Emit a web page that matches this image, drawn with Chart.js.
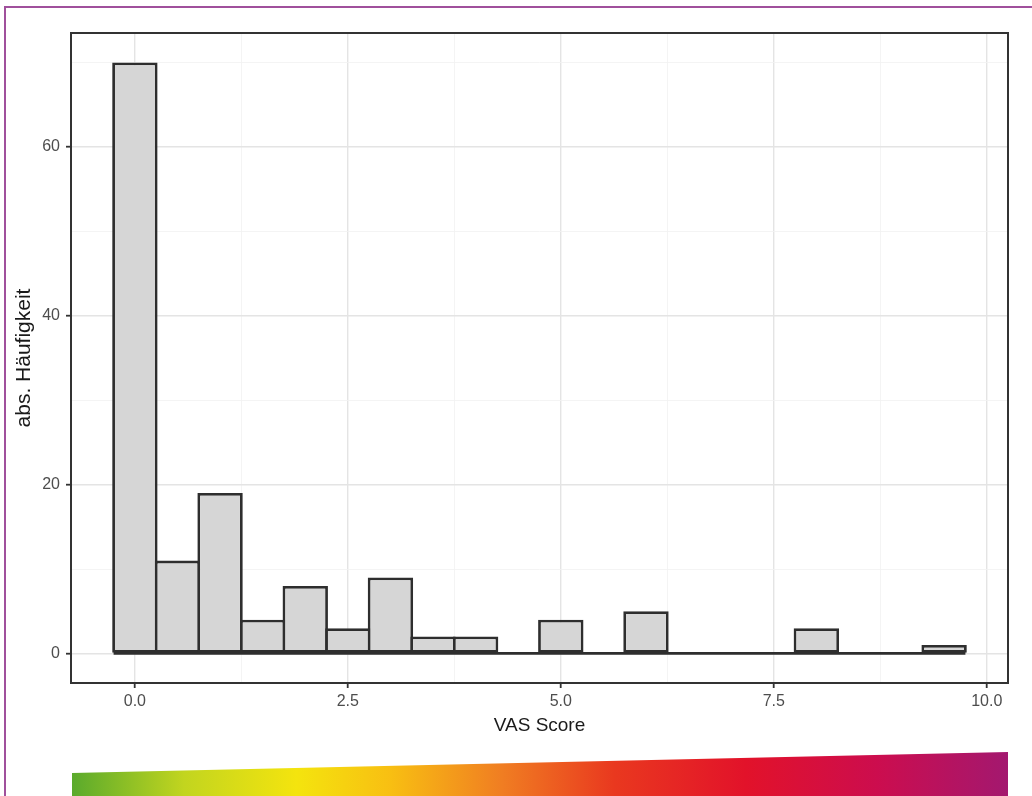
<!DOCTYPE html>
<html lang="de">
<head>
<meta charset="utf-8">
<title>VAS Score Histogramm</title>
<script src="https://cdn.jsdelivr.net/npm/chart.js@4.4.1/dist/chart.umd.min.js"></script>
<style>
html,body{margin:0;padding:0;background:#fff;}
#wrap{position:relative;width:1032px;height:796px;}
</style>
</head>
<body>
<div id="wrap"><canvas id="vasChart"></canvas></div>
<script>
// ═══════════ DATA ═══════════
const binCenters=[0,0.5,1,1.5,2,2.5,3,3.5,4,4.5,5,5.5,6,6.5,7,7.5,8,8.5,9,9.5];
const counts=[70,11,19,4,8,3,9,2,2,0,4,0,5,0,0,0,3,0,0,1];
const binWidth=0.5;
const xTickLabels=['0.0','2.5','5.0','7.5','10.0'];
const yTickLabels=['0','20','40','60'];
const xTitle='VAS Score';
const yTitle='abs. Häufigkeit';

// ═══════════ RANGES (ggplot style 5% expansion) ═══════════
const xLo=binCenters[0]-binWidth/2;
const xHi=binCenters[binCenters.length-1]+binWidth/2;
const xPad=(xHi-xLo)*0.05;
const yMax=Math.max(...counts);
const yPad=yMax*0.05;

const isMajorX=v=>xTickLabels.some(l=>Math.abs(parseFloat(l)-v)<1e-6);
const isMajorY=v=>yTickLabels.some(l=>Math.abs(parseFloat(l)-v)<1e-6);

const FONT="'Liberation Sans', Arial, Helvetica, sans-serif";
const INK='#2e2e2e';

// white page + purple frame (left/top)
const pageBg={
  id:'pageBg',
  beforeDraw(chart){
    const c=chart.ctx;
    c.save();
    c.fillStyle='#fff';
    c.fillRect(0,0,chart.width,chart.height);
    c.strokeStyle='#a0509c';
    c.lineWidth=2;
    c.beginPath();
    c.moveTo(5,chart.height);c.lineTo(5,7);c.lineTo(chart.width,7);
    c.stroke();
    c.restore();
  }
};

// panel border + colour wedge under the axis
const panelDeco={
  id:'panelDeco',
  afterDraw(chart){
    const c=chart.ctx, a=chart.chartArea;
    c.save();
    c.strokeStyle='#333';
    c.lineWidth=2;
    c.strokeRect(a.left,a.top,a.right-a.left,a.bottom-a.top);

    const gx0=72,gx1=1008;
    const g=c.createLinearGradient(gx0,0,gx1,0);
    g.addColorStop(0,'#5aaa2c');
    g.addColorStop(0.12,'#c2d51f');
    g.addColorStop(0.24,'#f4e40e');
    g.addColorStop(0.34,'#f8bf12');
    g.addColorStop(0.46,'#f07d22');
    g.addColorStop(0.58,'#e9381f');
    g.addColorStop(0.72,'#e2122a');
    g.addColorStop(0.86,'#cc0d4e');
    g.addColorStop(1,'#a3186f');
    c.fillStyle=g;
    c.beginPath();
    c.moveTo(gx0,773);c.lineTo(gx1,752);c.lineTo(gx1,chart.height);c.lineTo(gx0,chart.height);
    c.closePath();
    c.fill();
    c.restore();
  }
};

new Chart(document.getElementById('vasChart'),{
  type:'bar',
  data:{
    datasets:[
      {
        type:'line',
        data:[{x:xLo,y:0},{x:xHi,y:0}],
        borderColor:INK,borderWidth:2.8,
        pointRadius:0,order:1
      },
      {
        type:'bar',
        data:binCenters.map((x,i)=>({x,y:counts[i]})),
        backgroundColor:'#d6d6d6',
        borderColor:INK,
        borderWidth:2.8,
        borderSkipped:false,
        barPercentage:1.066,
        categoryPercentage:1,
        order:2
      }
    ]
  },
  options:{
    responsive:true,maintainAspectRatio:false,
    animation:false,
    layout:{padding:{left:0,top:33,right:24,bottom:43}},
    plugins:{legend:{display:false},tooltip:{enabled:false}},
    scales:{
      x:{
        type:'linear',
        offset:false,
        min:xLo-xPad,max:xHi+xPad,
        afterFit:s=>{s.height=70;},
        border:{display:false},
        grid:{
          offset:false,
          color:c=>isMajorX(c.tick.value)?'#e4e4e4':'#f1f1f1',
          lineWidth:c=>isMajorX(c.tick.value)?1.4:0.8,
          tickColor:c=>isMajorX(c.tick.value)?'#333':'rgba(0,0,0,0)',
          tickWidth:1.8,
          tickLength:5
        },
        ticks:{
          stepSize:1.25,
          includeBounds:false,
          autoSkip:false,
          maxRotation:0,
          padding:4,
          color:'#4d4d4d',
          font:{family:FONT,size:16},
          callback:v=>xTickLabels.find(l=>Math.abs(parseFloat(l)-v)<1e-6)||''
        },
        title:{display:true,text:xTitle,color:'#1a1a1a',font:{family:FONT,size:19},padding:{top:0,bottom:16}}
      },
      y:{
        min:-yPad,max:yMax+yPad,
        afterFit:s=>{s.width=71;},
        border:{display:false},
        grid:{
          color:c=>isMajorY(c.tick.value)?'#e4e4e4':'#f1f1f1',
          lineWidth:c=>isMajorY(c.tick.value)?1.4:0.8,
          tickColor:c=>isMajorY(c.tick.value)?'#333':'rgba(0,0,0,0)',
          tickWidth:1.8,
          tickLength:5
        },
        ticks:{
          stepSize:10,
          includeBounds:false,
          autoSkip:false,
          padding:6,
          color:'#4d4d4d',
          font:{family:FONT,size:16},
          callback:v=>yTickLabels.find(l=>Math.abs(parseFloat(l)-v)<1e-6)||''
        },
        title:{display:true,text:yTitle,color:'#1a1a1a',font:{family:FONT,size:21},padding:{top:12,bottom:0}}
      }
    }
  },
  plugins:[pageBg,panelDeco]
});
</script>
</body>
</html>
